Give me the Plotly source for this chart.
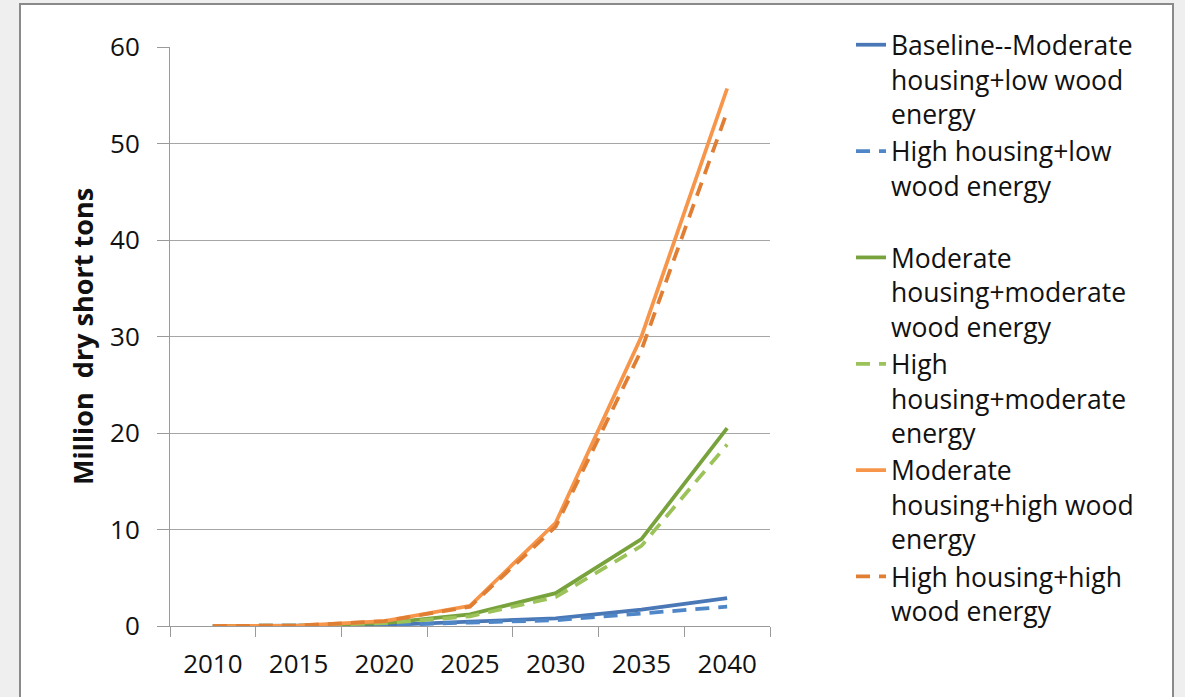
import plotly.graph_objects as go

years = ["2010", "2015", "2020", "2025", "2030", "2035", "2040"]

baseline_mod_low = [0, 0.02, 0.1, 0.45, 0.8, 1.7, 2.9]
high_low = [0, 0.02, 0.1, 0.35, 0.6, 1.3, 2.0]
mod_mod = [0, 0.05, 0.3, 1.2, 3.4, 9.0, 20.5]
high_mod = [0, 0.05, 0.3, 1.0, 3.0, 8.3, 18.8]
mod_high = [0, 0.05, 0.5, 2.1, 10.7, 30.0, 55.7]
high_high = [0, 0.05, 0.5, 2.0, 10.3, 28.6, 53.3]

names = [
    "Baseline--Moderate<br>housing+low wood<br>energy",
    "High housing+low<br>wood energy<br>&nbsp;",
    "Moderate<br>housing+moderate<br>wood energy",
    "High<br>housing+moderate<br>energy",
    "Moderate<br>housing+high wood<br>energy",
    "High housing+high<br>wood energy",
]
series = [baseline_mod_low, high_low, mod_mod, high_mod, mod_high, high_high]
colors = ["#4a78b6", "#4f86c8", "#77a23c", "#9cc25a", "#f7964a", "#e07e34"]
dashes = ["solid", "14px,9px", "solid", "14px,9px", "solid", "14px,9px"]

fig = go.Figure()
for nm, ys, c, d in zip(names, series, colors, dashes):
    fig.add_trace(go.Scatter(
        x=years, y=ys, name=nm, mode="lines",
        line=dict(color=c, width=3.75, dash=d),
    ))

W, H = 1185, 697
L, R, T, B = 170, 770, 47, 626
pw, ph = R - L, B - T

def px2x(px):
    return (px - L) / pw

def py2y(py):
    return (B - py) / ph

fig.add_shape(type="rect", xref="paper", yref="paper",
              x0=px2x(20), x1=px2x(1173), y0=py2y(720), y1=py2y(4),
              fillcolor="white", line=dict(color="#8a8a8a", width=2), layer="below")

FONT = "Open Sans"
fig.update_layout(
    width=W, height=H,
    margin=dict(l=L, r=W - R, t=T, b=H - B, pad=0),
    paper_bgcolor="#efefef",
    plot_bgcolor="white",
    font=dict(family=FONT, color="#111111"),
    showlegend=True,
    legend=dict(
        x=px2x(851), xanchor="left", y=py2y(21), yanchor="top",
        font=dict(family=FONT, size=26.5, color="#111111"),
        bgcolor="rgba(0,0,0,0)", valign="top", tracegroupgap=0,
        maxheight=690,
    ),
    xaxis=dict(
        type="category", categoryorder="array", categoryarray=years,
        range=[-0.5, 6.5], tickson="boundaries",
        showgrid=False, showline=True, linecolor="#9a9a9a", linewidth=1,
        ticks="outside", ticklen=10, tickcolor="#9a9a9a",
        tickfont=dict(family=FONT, size=26, color="#111111"),
        ticklabelstandoff=15,
    ),
    yaxis=dict(
        range=[0, 60], dtick=10, showgrid=True, gridcolor="#a6a6a6", gridwidth=1,
        showline=True, linecolor="#9a9a9a", linewidth=1, zeroline=False,
        ticks="outside", ticklen=12, tickcolor="#9a9a9a",
        tickfont=dict(family=FONT, size=26, color="#111111"),
        ticklabelstandoff=12,
        title=dict(text="<b>Million  dry short tons</b>", standoff=8,
                   font=dict(family=FONT, size=27, color="#111111")),
    ),
)

fig.write_html("out.html")
